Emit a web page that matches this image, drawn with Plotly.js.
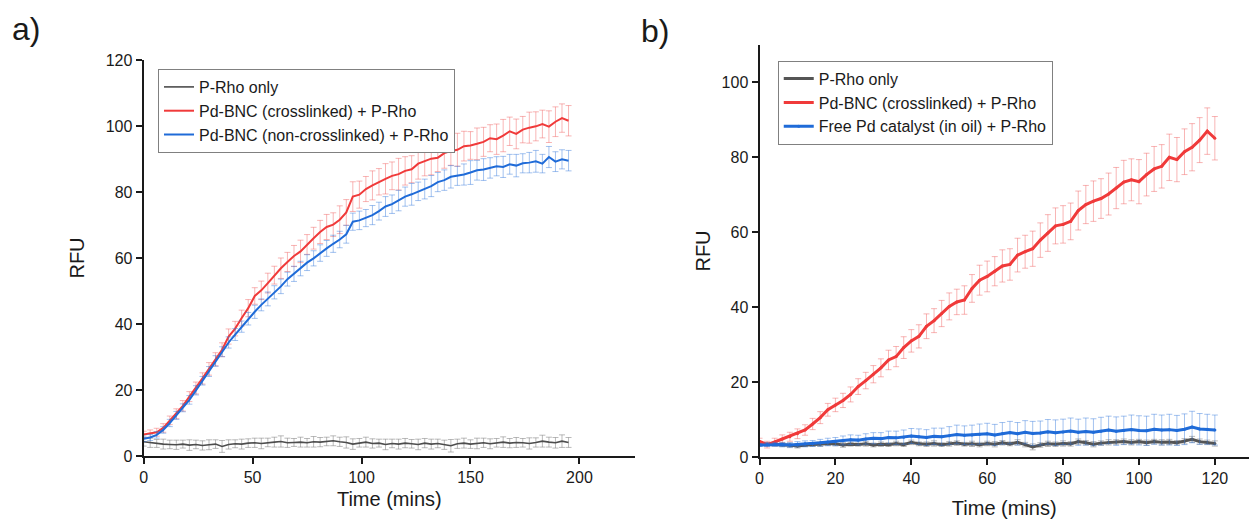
<!DOCTYPE html>
<html>
<head>
<meta charset="utf-8">
<script src="https://cdn.plot.ly/plotly-3.0.1.min.js"></script>
<style>html,body{margin:0;padding:0;background:#fff;}#chart{width:1249px;height:520px;}</style>
</head>
<body>
<div id="chart"></div>
<script>
// ---------- Panel a) ----------
const timeA = [0,3,6,9,12,15,18,21,24,27,30,
  33,36,39,42,45,48,51,54,57,60,63,
  66,69,72,75,78,81,84,87,90,93,96,
  99,102,105,108,111,114,117,120,123,126,129,
  132,135,138,141,144,147,150,153,156,159,162,
  165,168,171,174,177,180,183,186,189,192,195];
const pRhoA = [4.3,4.0,3.8,3.6,3.5,3.4,3.6,3.3,3.5,3.2,3.4,
  3.6,2.9,3.5,3.7,3.6,3.9,4.0,3.8,4.1,4.2,4.4,
  4.0,4.1,4.2,4.0,4.3,4.2,4.4,4.6,4.3,4.1,3.6,
  4.0,4.2,3.8,3.9,3.5,3.8,3.6,3.9,3.7,3.5,3.9,
  3.6,3.8,3.4,3.1,3.7,3.9,3.6,3.8,4.0,3.7,4.0,
  4.2,3.9,4.1,4.0,3.8,4.1,4.5,4.2,4.0,4.5,4.1];
const pRhoAErr = [1.3,1.4,1.2,1.5,1.3,1.4,1.2,1.6,1.3,1.4,1.5,
  1.3,1.8,1.4,1.2,1.5,1.3,1.4,1.6,1.3,1.5,1.7,
  1.4,1.2,1.5,1.3,1.6,1.4,1.3,1.5,1.4,1.7,1.6,
  1.3,1.5,1.4,1.2,1.6,1.3,1.5,1.4,1.3,1.6,1.4,
  1.5,1.3,1.4,1.9,1.4,1.5,1.3,1.6,1.4,1.5,1.3,
  1.6,1.4,1.5,1.3,1.7,1.4,1.8,1.5,1.6,1.9,1.5];
const crossA = [6.5,6.8,7.2,8.5,10.8,12.8,15.2,18.0,20.6,23.5,26.4,
  29.3,32.2,36.2,38.6,41.8,44.8,48.5,50.2,52.4,54.8,56.9,
  58.8,60.6,62.0,64.1,66.0,67.9,69.4,70.1,71.6,73.8,78.6,
  79.2,80.9,82.0,83.1,84.0,84.9,85.4,86.4,86.9,88.6,89.3,
  90.1,90.4,91.8,92.4,92.8,93.9,94.1,94.6,95.2,96.3,96.0,
  97.1,98.4,97.6,98.9,99.5,99.9,100.6,99.8,101.3,102.4,101.6];
const crossAErr = [1.0,1.1,1.2,1.3,1.3,1.5,1.6,1.5,1.8,1.7,1.9,
  2.0,2.1,2.3,2.2,2.4,2.6,2.5,2.8,3.0,2.7,3.1,
  2.9,3.2,3.4,3.0,3.3,3.5,3.8,3.6,4.2,3.9,4.5,
  4.1,3.8,4.4,4.0,4.6,4.2,4.8,4.3,4.1,4.7,4.4,
  4.9,4.2,4.6,4.3,5.0,4.5,4.2,4.8,4.4,4.1,4.6,
  4.9,4.3,4.5,4.0,4.7,4.4,4.2,4.8,4.5,4.3,4.6];
const nonCrossA = [5.2,5.6,6.4,7.9,10.0,12.3,14.6,17.0,19.9,22.8,25.6,
  28.8,31.6,34.4,36.8,39.2,41.6,43.7,45.8,47.6,49.6,51.4,
  53.6,55.2,56.8,58.6,59.9,61.5,62.9,64.3,65.6,67.2,71.0,
  71.4,72.1,73.0,74.2,75.6,76.3,77.4,78.6,79.3,80.2,80.9,
  81.8,83.0,83.6,84.6,84.9,85.3,85.9,86.6,86.8,87.3,87.8,
  87.6,88.4,88.0,88.7,88.9,89.3,88.6,90.6,89.2,89.9,89.5];
const nonCrossAErr = [0.8,0.9,1.0,1.0,1.1,1.2,1.2,1.3,1.4,1.3,1.5,
  1.6,1.5,1.7,1.8,1.7,1.9,2.0,1.8,2.1,2.0,2.2,
  2.1,2.3,2.2,2.4,2.3,2.5,2.4,2.6,2.5,2.7,2.6,
  2.8,2.6,2.9,2.7,3.0,2.8,3.1,2.9,3.3,2.8,3.0,
  3.2,2.9,3.1,3.4,2.9,3.2,3.6,3.0,3.3,3.1,2.9,
  3.2,3.0,3.4,2.9,3.1,3.3,2.8,3.2,3.0,2.9,3.1];

// ---------- Panel b) ----------
const timeB = [0,2,4,6,8,10,12,14,16,18,
  20,22,24,26,28,30,32,34,36,38,
  40,42,44,46,48,50,52,54,56,58,
  60,62,64,66,68,70,72,74,76,78,
  80,82,84,86,88,90,92,94,96,98,
  100,102,104,106,108,110,112,114,116,118,120];
const pRhoB = [3.3,3.4,3.3,3.3,3.1,2.9,3.2,3.3,3.4,3.6,
  3.5,3.2,3.4,3.3,3.5,3.2,3.4,3.3,3.6,3.3,
  3.9,3.5,3.4,3.6,3.3,3.5,3.7,3.4,3.5,3.3,
  3.6,3.4,3.8,3.5,3.9,3.3,2.7,3.2,3.5,3.4,
  3.6,3.5,4.1,3.8,3.4,3.7,3.9,4.0,4.1,3.9,
  4.1,3.8,4.1,3.9,4.0,3.8,4.2,4.7,4.1,3.9,3.6];
const pRhoBErr = [0.4,0.5,0.4,0.5,0.6,0.5,0.4,0.5,0.6,0.5,
  0.5,0.6,0.5,0.4,0.6,0.5,0.6,0.5,0.6,0.5,
  0.6,0.5,0.6,0.7,0.5,0.6,0.6,0.5,0.7,0.6,
  0.6,0.7,0.6,0.5,0.7,0.6,0.8,0.6,0.7,0.6,
  0.7,0.6,0.7,0.6,0.7,0.6,0.7,0.6,0.7,0.7,
  0.6,0.7,0.6,0.7,0.7,0.6,0.7,0.8,0.7,0.6,0.7];
const crossB = [4.2,3.3,4.0,4.8,5.4,6.2,7.2,8.8,10.5,12.6,
  13.9,15.1,16.7,18.8,20.4,22.1,23.8,25.9,26.8,29.2,
  31.0,32.2,34.9,36.4,38.3,40.2,41.4,41.9,45.0,47.2,
  48.2,49.6,51.0,51.4,53.9,54.8,55.6,57.9,59.8,61.7,
  62.1,62.9,65.8,67.4,68.3,69.0,70.2,71.8,73.4,74.0,
  73.5,75.4,76.9,77.6,80.0,79.4,81.5,82.7,84.6,87.0,85.1];
const crossBErr = [0.8,0.9,1.0,1.1,1.2,1.3,1.4,1.5,1.6,1.7,
  1.8,1.9,2.0,2.1,2.2,2.3,2.4,2.6,2.7,2.9,
  3.0,3.1,3.3,3.2,3.5,3.6,3.4,3.8,3.7,4.0,
  4.1,3.9,4.3,4.2,4.5,4.4,4.7,4.6,4.9,4.8,
  5.0,4.9,5.2,5.1,5.4,5.3,5.6,5.5,5.8,5.6,
  5.9,5.7,6.0,5.8,6.2,5.9,6.1,6.3,6.0,6.2,5.8];
const freePdB = [3.2,3.3,3.4,3.3,3.2,3.4,3.5,3.6,3.8,4.0,
  4.1,4.4,4.6,4.5,4.8,5.0,4.9,5.2,5.1,5.3,
  5.6,5.4,5.2,5.5,5.4,5.7,6.0,5.8,5.9,6.1,
  6.2,5.9,6.3,6.5,6.2,6.6,6.3,6.4,6.7,6.5,
  6.7,6.9,6.6,6.8,6.6,6.9,7.2,6.9,7.1,7.3,
  7.1,7.0,7.4,7.2,7.3,7.1,7.4,8.0,7.5,7.4,7.2];
const freePdBErr = [0.4,0.5,0.5,0.6,0.6,0.7,0.8,0.8,0.9,1.0,
  1.1,1.2,1.3,1.3,1.4,1.5,1.6,1.7,1.8,1.9,
  2.0,2.1,2.1,2.2,2.3,2.4,2.5,2.5,2.6,2.7,
  2.8,2.8,2.9,3.0,3.0,3.1,3.2,3.2,3.3,3.4,
  3.4,3.5,3.5,3.6,3.6,3.7,3.7,3.8,3.8,3.9,
  3.9,3.9,4.0,4.0,4.1,4.0,4.1,4.2,4.1,4.0,4.0];

const labelsA = ['P-Rho only', 'Pd-BNC (crosslinked) + P-Rho', 'Pd-BNC (non-crosslinked) + P-Rho'];
const labelsB = ['P-Rho only', 'Pd-BNC (crosslinked) + P-Rho', 'Free Pd catalyst (in oil) + P-Rho'];

const GRAY = '#4d4d4d', RED = '#f03a3a', BLUE = '#1f6bd8';
const GRAY_E = 'rgba(130,130,130,0.55)', RED_E = 'rgba(240,90,90,0.45)', BLUE_E = 'rgba(50,120,220,0.45)';
const FONT = 'Liberation Sans, Arial, sans-serif';

function errBar(arr, color) {
  return {type: 'data', array: arr, visible: true, color: color, thickness: 1, width: 3};
}

const traces = [
  {x: timeA, y: pRhoA, name: labelsA[0], mode: 'lines', line: {color: GRAY, width: 1.6},
   error_y: errBar(pRhoAErr, GRAY_E), xaxis: 'x', yaxis: 'y', legend: 'legend'},
  {x: timeA, y: crossA, name: labelsA[1], mode: 'lines', line: {color: RED, width: 2},
   error_y: errBar(crossAErr, RED_E), xaxis: 'x', yaxis: 'y', legend: 'legend'},
  {x: timeA, y: nonCrossA, name: labelsA[2], mode: 'lines', line: {color: BLUE, width: 2},
   error_y: errBar(nonCrossAErr, BLUE_E), xaxis: 'x', yaxis: 'y', legend: 'legend'},
  {x: timeB, y: pRhoB, name: labelsB[0], mode: 'lines+markers', line: {color: '#555555', width: 3},
   marker: {size: 3, color: '#555555'},
   error_y: errBar(pRhoBErr, GRAY_E), xaxis: 'x2', yaxis: 'y2', legend: 'legend2'},
  {x: timeB, y: crossB, name: labelsB[1], mode: 'lines+markers', line: {color: RED, width: 3},
   marker: {size: 3, color: RED},
   error_y: errBar(crossBErr, RED_E), xaxis: 'x2', yaxis: 'y2', legend: 'legend2'},
  {x: timeB, y: freePdB, name: labelsB[2], mode: 'lines+markers', line: {color: BLUE, width: 3},
   marker: {size: 3, color: BLUE},
   error_y: errBar(freePdBErr, BLUE_E), xaxis: 'x2', yaxis: 'y2', legend: 'legend2'}
];

function axisBase(extra) {
  return Object.assign({
    showline: true, linecolor: '#1a1a1a', linewidth: 2,
    ticks: 'outside', ticklen: 6, tickwidth: 2, tickcolor: '#1a1a1a',
    showgrid: false, zeroline: false, automargin: false,
    tickfont: {family: FONT, size: 16, color: '#1a1a1a'}
  }, extra);
}

const legendStyle = {
  xanchor: 'left', yanchor: 'top', bgcolor: 'rgba(255,255,255,1)',
  bordercolor: '#808080', borderwidth: 1,
  font: {family: FONT, size: 16, color: '#1a1a1a'},
  tracegroupgap: 0, itemwidth: 30
};

const layout = {
  width: 1249, height: 520,
  margin: {l: 0, r: 0, t: 0, b: 0, autoexpand: false},
  paper_bgcolor: '#ffffff', plot_bgcolor: 'rgba(0,0,0,0)',
  font: {family: FONT, color: '#1a1a1a'},
  showlegend: true,
  xaxis: axisBase({domain: [0.1150, 0.5084], range: [0, 225.5], dtick: 50, tick0: 0, anchor: 'y',
    title: {text: 'Time (mins)', font: {family: FONT, size: 20}, standoff: 7}}),
  yaxis: axisBase({domain: [0.1231, 0.8846], range: [0, 120], dtick: 20, tick0: 0, anchor: 'x',
    title: {text: 'RFU', font: {family: FONT, size: 20}, standoff: 16}}),
  xaxis2: axisBase({domain: [0.6081, 1.0], range: [0, 129], dtick: 20, tick0: 0, anchor: 'y2',
    title: {text: 'Time (mins)', font: {family: FONT, size: 20}, standoff: 15}}),
  yaxis2: axisBase({domain: [0.1212, 0.9135], range: [0, 110], dtick: 20, tick0: 0, anchor: 'x2',
    title: {text: 'RFU', font: {family: FONT, size: 20}, standoff: 6}}),
  legend: Object.assign({x: 0.1265, y: 0.8673}, legendStyle),
  legend2: Object.assign({x: 0.6227, y: 0.8833}, legendStyle),
  annotations: [
    {text: 'a)', xref: 'paper', yref: 'paper', x: 0.008, y: 0.944, xanchor: 'left', yanchor: 'middle',
     showarrow: false, font: {family: FONT, size: 32, color: '#1a1a1a'}},
    {text: 'b)', xref: 'paper', yref: 'paper', x: 0.512, y: 0.94, xanchor: 'left', yanchor: 'middle',
     showarrow: false, font: {family: FONT, size: 32, color: '#1a1a1a'}}
  ]
};

Plotly.newPlot('chart', traces, layout, {displayModeBar: false, staticPlot: true});
</script>
</body>
</html>
